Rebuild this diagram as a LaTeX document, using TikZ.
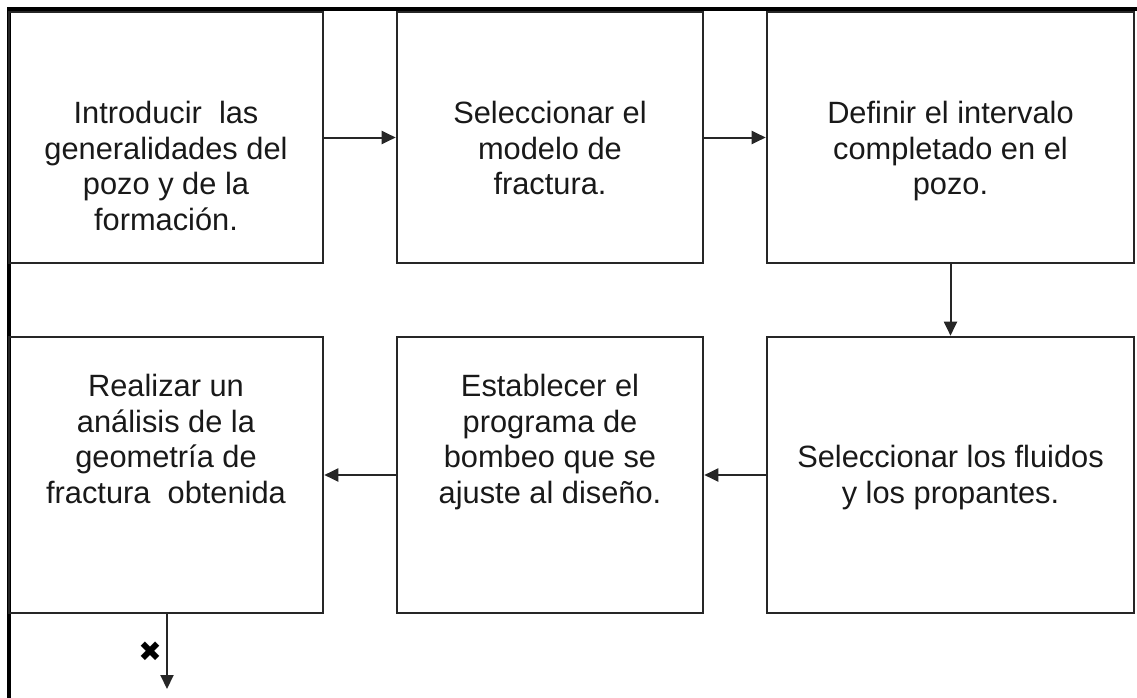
\documentclass[tikz,border=0pt]{standalone}
\usepackage{fontspec}
\setmainfont{Liberation Sans}
\newfontfamily\symfont{DejaVu Sans}
\usetikzlibrary{arrows.meta}
\begin{document}
\begin{tikzpicture}[x=1pt,y=-1pt,
  stepbox/.style={draw=black!85,line width=2.6pt,rectangle,inner sep=0pt},
  label/.style={inner sep=0pt,align=center,anchor=north,font=\fontsize{30.8pt}{35.5pt}\selectfont,text=black!90},
  arr/.style={draw=black!85,line width=2pt,-{Triangle[length=14pt,width=13pt]}},
  frame/.style={draw=black,line width=4pt}]
\useasboundingbox (0,0) rectangle (1137,698);
% frame
\draw[frame] (9,698) -- (9,9) -- (1137,9);
% boxes
\node[stepbox,minimum width=314pt,minimum height=251pt] (b1) at (166,137.5) {};
\node[stepbox,minimum width=306pt,minimum height=251pt] (b2) at (550,137.5) {};
\node[stepbox,minimum width=367pt,minimum height=251pt] (b3) at (950.5,137.5) {};
\node[stepbox,minimum width=314pt,minimum height=276pt] (b4) at (166,475) {};
\node[stepbox,minimum width=306pt,minimum height=276pt] (b5) at (550,475) {};
\node[stepbox,minimum width=367pt,minimum height=276pt] (b6) at (950.5,475) {};
% texts
\node[label] (t1) at (166,101) {Introducir~ las\\generalidades del\\pozo y de la\\formación.};
\node[label] (t2) at (550,101) {Seleccionar el\\modelo de\\fractura.};
\node[label] (t3) at (950.5,101) {Definir el intervalo\\completado en el\\pozo.};
\node[label] (t4) at (166,374) {Realizar un\\análisis de la\\geometría de\\fractura~ obtenida};
\node[label] (t5) at (550,374) {Establecer el\\programa de\\bombeo que se\\ajuste al diseño.};
\node[label] (t6) at (950.5,445) {Seleccionar los fluidos\\y los propantes.};
% connectors
\draw[arr] (b1.east) -- (b2.west);
\draw[arr] (b2.east) -- (b3.west);
\draw[arr] (b3.south) -- (b6.north);
\draw[arr] (b6.west) -- (b5.east);
\draw[arr] (b5.west) -- (b4.east);
\coordinate (end) at (167,689);
\draw[arr] (b4.south -| end) -- (end);
\node[inner sep=0pt,font=\symfont\fontsize{28pt}{28pt}\selectfont] (x) at (150,652) {✖};
\end{tikzpicture}
\end{document}
